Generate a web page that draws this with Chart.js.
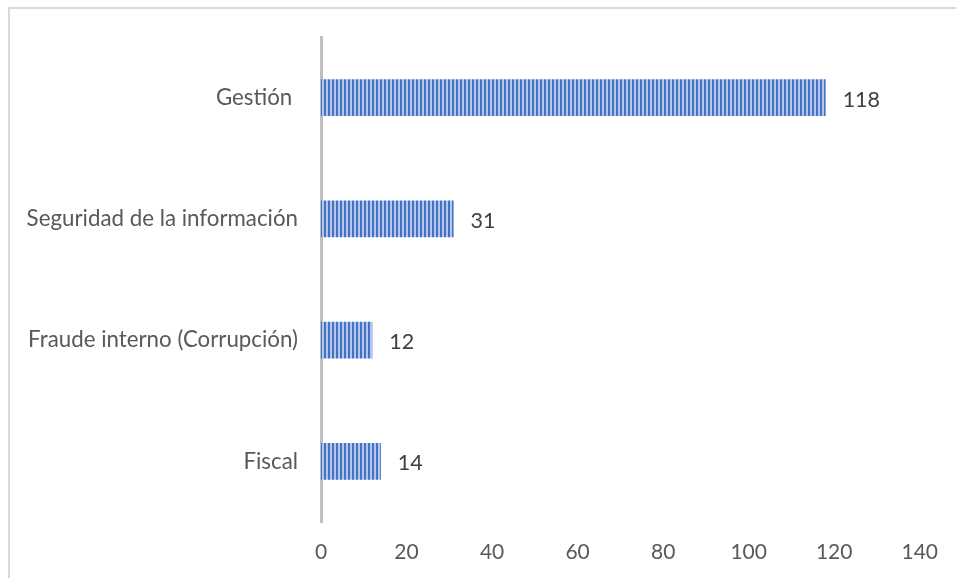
<!DOCTYPE html>
<html>
<head>
<meta charset="utf-8">
<script src="https://cdn.jsdelivr.net/npm/chart.js@4/dist/chart.umd.min.js"></script>
<style>
  html, body { margin: 0; padding: 0; background: #ffffff; }
  #wrap { position: relative; width: 956px; height: 578px; overflow: hidden; }
  #frame { position: absolute; left: 8px; top: 7px; width: 960px; height: 600px; border: 2px solid #d9d9d9; box-sizing: border-box; }
  canvas { position: absolute; left: 0; top: 0; }
</style>
</head>
<body>
<div id="wrap">
  <div id="frame"></div>
  <canvas id="c" width="956" height="578"></canvas>
</div>
<script>
const categories = ["Gestión ", "Seguridad de la información", "Fraude interno (Corrupción)", "Fiscal"];
const values = [118, 31, 12, 14];
const xTicks = [0, 20, 40, 60, 80, 100, 120, 140];

const FONT = "Lato, 'Open Sans', sans-serif";
const FS = 21;
const FS_CAT = 22.3;

function stripePattern() {
  const t = document.createElement('canvas');
  t.width = 4; t.height = 4;
  const g = t.getContext('2d');
  g.fillStyle = '#b4c7ea';
  g.fillRect(0, 0, 4, 4);
  g.fillStyle = '#4472c4';
  g.fillRect(0, 0, 2, 4);
  return g.createPattern(t, 'repeat');
}

const labelPlugin = {
  id: 'valueLabels',
  afterDatasetsDraw(chart) {
    const ctx = chart.ctx;
    const meta = chart.getDatasetMeta(0);
    ctx.save();
    ctx.font = (FS + 0.5) + "px " + FONT;
    ctx.fillStyle = '#404040';
    ctx.textAlign = 'left';
    ctx.textBaseline = 'middle';
    meta.data.forEach((bar, i) => {
      ctx.fillText(String(values[i]), bar.x + 17, bar.y + 2);
    });
    ctx.restore();
  }
};

const ctx = document.getElementById('c').getContext('2d');
new Chart(ctx, {
  type: 'bar',
  data: {
    labels: categories,
    datasets: [{
      data: values,
      backgroundColor: stripePattern(),
      borderWidth: 0,
      barPercentage: 0.61,
      categoryPercentage: 0.5
    }]
  },
  options: {
    indexAxis: 'y',
    responsive: false,
    animation: false,
    devicePixelRatio: 1,
    layout: { padding: { left: 0, right: 35, top: 37, bottom: 0 } },
    plugins: { legend: { display: false }, tooltip: { enabled: false } },
    scales: {
      x: {
        min: 0, max: 140,
        afterFit(scale) { scale.height = 56; },
        afterBuildTicks(scale) { scale.ticks = xTicks.map(v => ({ value: v })); },
        grid: { display: false, drawTicks: false },
        border: { display: false },
        ticks: { padding: 18, color: '#595959', font: { family: FONT, size: FS }, maxRotation: 0 }
      },
      y: {
        afterFit(scale) { scale.width = 321; },
        grid: { display: false, drawTicks: false },
        border: { display: true, color: '#bfbfbf', width: 3 },
        ticks: { padding: 23, color: '#595959', font: { family: FONT, size: FS_CAT } }
      }
    }
  },
  plugins: [labelPlugin]
});
</script>
</body>
</html>
